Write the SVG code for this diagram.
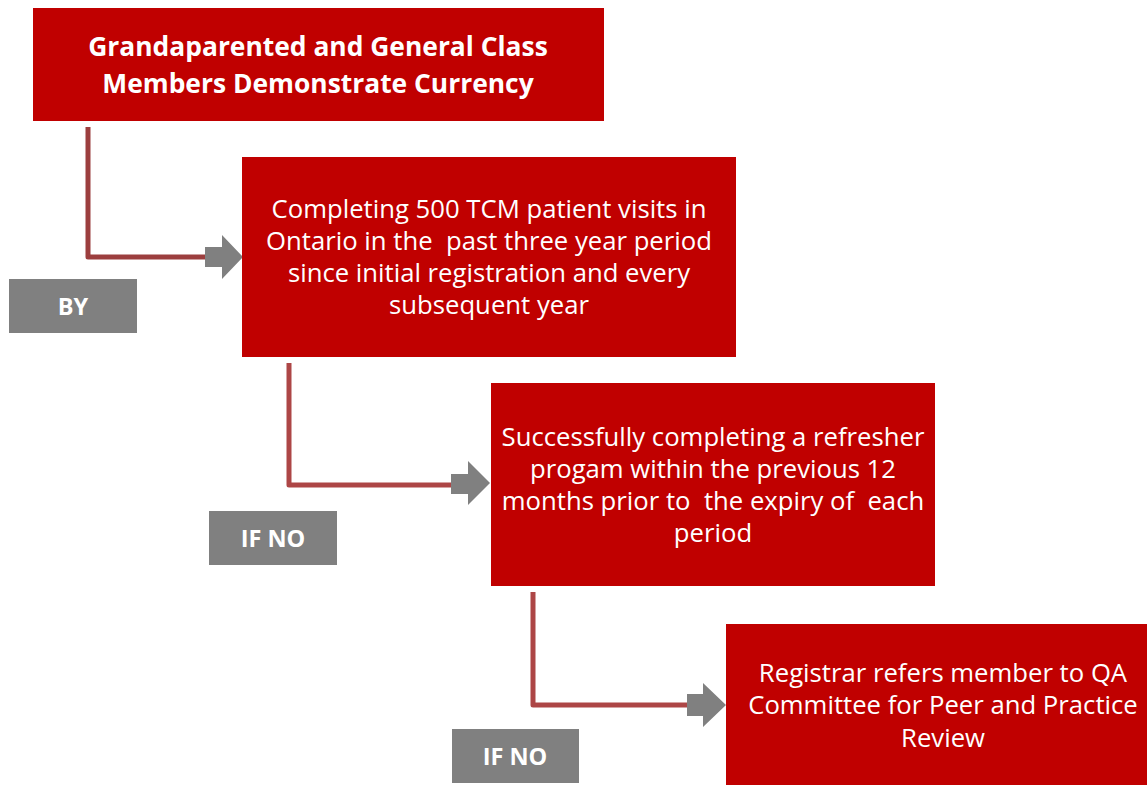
<svg xmlns="http://www.w3.org/2000/svg" width="1147" height="785" viewBox="0 0 1147 785">
<defs>
<style>
.box{fill:#c00000;}
.lbl{fill:#808080;}
.t{font-family:"Open Sans","Liberation Sans",Arial,sans-serif;fill:#ffffff;text-anchor:middle;white-space:pre;}
.tr{font-size:25.7px;}
.tb{font-weight:bold;font-size:26.4px;}
.tl{font-weight:bold;font-size:23.5px;}
.ln{fill:none;stroke:#ad4646;stroke-width:5;stroke-linejoin:round;}
.ln1{stroke:#9c3e3e;}
.arr{fill:#808080;}
</style>
</defs>
<rect width="1147" height="785" fill="#ffffff"/>
<g id="connectors">
<path class="ln ln1" d="M88 127 V257 H210"/>
<polygon class="arr" points="205,247 222,247 222,235 243,257 222,279 222,267 205,267"/>
<path class="ln" d="M289 363 V485 H455"/>
<polygon class="arr" points="451,474 468,474 468,461 490,483 468,505 468,494 451,494"/>
<path class="ln" d="M533 592 V705 H690"/>
<polygon class="arr" points="687,694 703,694 703,683 726,705 703,727 703,716 687,716"/>
</g>
<g id="node-start">
<rect class="box" x="33" y="8" width="571" height="113"/>
<text class="t tb" x="318" y="56">Grandaparented and General Class</text>
<text class="t tb" x="318" y="93">Members Demonstrate Currency</text>
</g>
<g id="node-visits">
<rect class="box" x="242" y="157" width="494" height="200"/>
<text class="t tr" x="489" y="218">Completing 500 TCM patient visits in</text>
<text class="t tr" x="489" y="250">Ontario in the  past three year period</text>
<text class="t tr" x="489" y="282">since initial registration and every</text>
<text class="t tr" x="489" y="314">subsequent year</text>
</g>
<g id="node-refresher">
<rect class="box" x="491" y="383" width="444" height="203"/>
<text class="t tr" x="713" y="446">Successfully completing a refresher</text>
<text class="t tr" x="713" y="478">progam within the previous 12</text>
<text class="t tr" x="713" y="510">months prior to  the expiry of  each</text>
<text class="t tr" x="713" y="542">period</text>
</g>
<g id="node-registrar">
<rect class="box" x="726" y="624" width="421" height="161"/>
<text class="t tr" x="943" y="682">Registrar refers member to QA</text>
<text class="t tr" x="943" y="714">Committee for Peer and Practice</text>
<text class="t tr" x="943" y="747">Review</text>
</g>
<g id="label-by">
<rect class="lbl" x="9" y="279" width="128" height="54"/>
<text class="t tl" x="73" y="315">BY</text>
</g>
<g id="label-ifno-1">
<rect class="lbl" x="209" y="511" width="128" height="54"/>
<text class="t tl" x="273" y="547">IF NO</text>
</g>
<g id="label-ifno-2">
<rect class="lbl" x="452" y="729" width="127" height="54"/>
<text class="t tl" x="515" y="765">IF NO</text>
</g>
</svg>
